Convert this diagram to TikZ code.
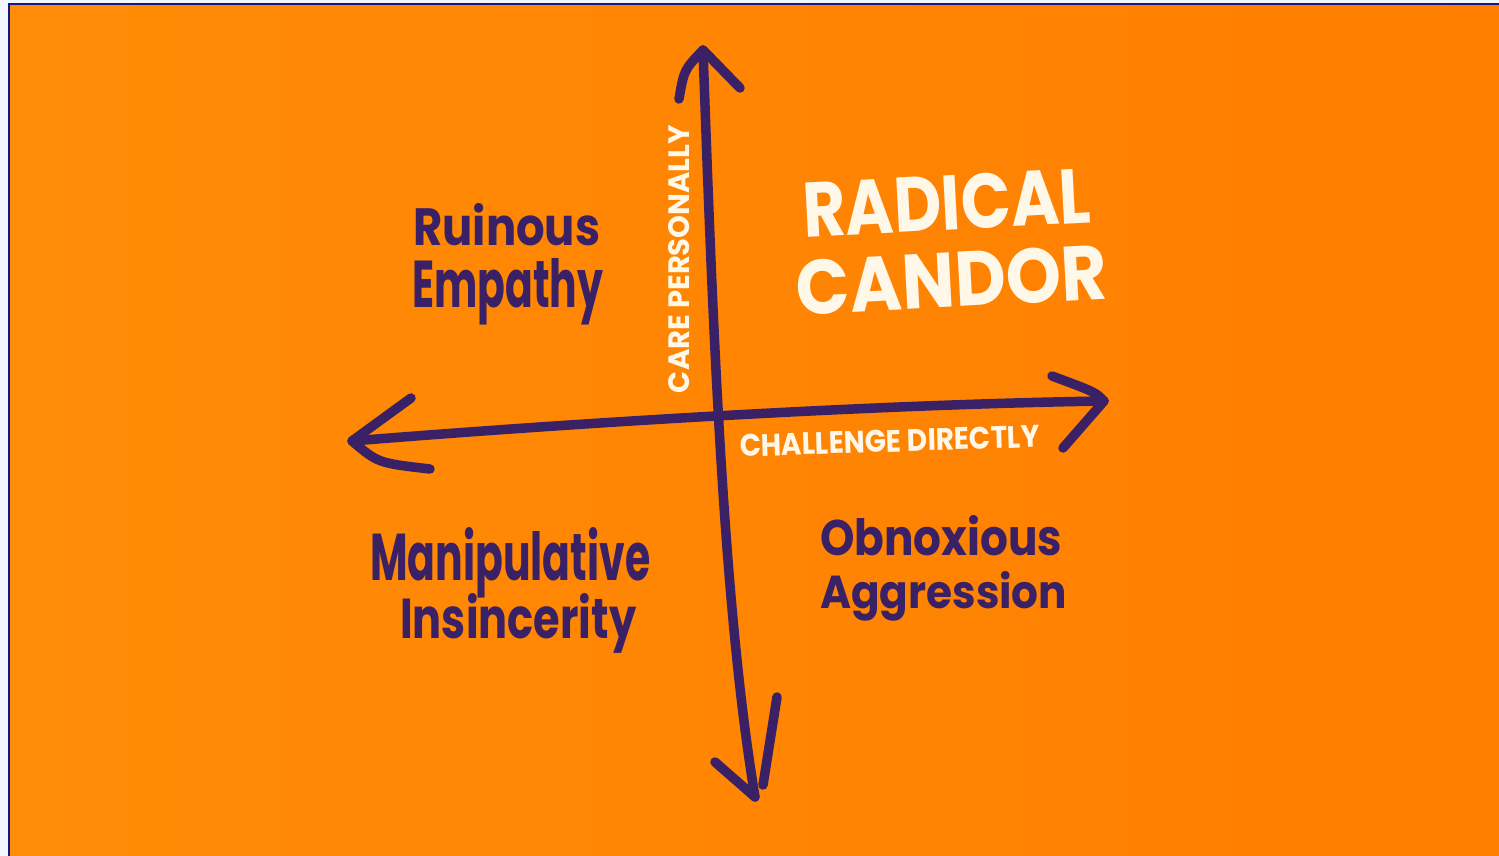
\documentclass[tikz,border=0pt]{standalone}
\usepackage{fontspec}
\setmainfont{Poppins}
\usepackage{graphicx}
\definecolor{frameback}{RGB}{242,246,255}
\definecolor{framenavy}{RGB}{20,24,130}
\definecolor{paperL}{RGB}{255,140,6}
\definecolor{paperR}{RGB}{255,126,0}
\definecolor{ink}{RGB}{58,32,100}
\definecolor{chalk}{RGB}{255,247,232}
% fit a line of text to a given width and height
\newcommand\fitline[3]{\resizebox{#1}{#2}{#3}}
\begin{document}
\begin{tikzpicture}[x=1pt,y=-1pt,
  axis/.style={draw=ink,line width=9.5pt,line cap=round,line join=round},
  quadrant/.style={inner sep=0pt,anchor=base west,text=ink,font=\bfseries},
  axislabel/.style={inner sep=0pt,anchor=base,text=chalk,font=\bfseries},
  headline/.style={inner sep=0pt,anchor=base,text=chalk,font=\bfseries}]
\useasboundingbox (0,0) rectangle (1499,856);
% page and board
\fill[frameback] (0,0) rectangle (1499,856);
\shade[left color=paperL,right color=paperR] (9,4) rectangle (1499,856);
\draw[framenavy,line width=2pt] (9,856) -- (9,4) -- (1499,4);

% vertical axis: care personally
\coordinate (vtop) at (703,50);
\coordinate (vbot) at (755,797);
\draw[axis] (vtop) .. controls (712,300) and (722,600) .. (vbot);
\draw[axis] (679,99) .. controls (684,70) .. (vtop) -- (740,88);
\draw[axis] (715,762) -- (vbot);
\coordinate (vbarbA) at (777,697);
\coordinate (vbarbB) at (763,785);
\draw[axis] (vbarbA) -- (vbarbB);

% horizontal axis: challenge directly
\coordinate (hl) at (352,441);
\coordinate (hr) at (1104,401);
\draw[axis] (hl) .. controls (550,425) and (850,405) .. (hr);
\draw[axis] (411,398) -- (hl) .. controls (378,463) .. (430,469);
\draw[axis] (1052,376) .. controls (1095,392) .. (hr) -- (1063,448);

% axis labels
\node[axislabel,rotate=90] (care) at (689,259) {\fitline{268pt}{21pt}{CARE PERSONALLY}};
\node[axislabel,rotate=1.8] (chal) at (890,452) {\fitline{300pt}{22pt}{CHALLENGE DIRECTLY}};

% quadrant names
\node[quadrant] (ru) at (413,245) {\fitline{187pt}{42pt}{Ruinous}};
\node[quadrant] (em) at (412,307) {\fitline{191pt}{49pt}{Empathy}};
\node[quadrant] (ma) at (370,580) {\fitline{280pt}{53pt}{Manipulative}};
\node[quadrant] (in) at (400,638) {\fitline{236pt}{45pt}{Insincerity}};
\node[quadrant] (ob) at (820,555) {\fitline{242pt}{40pt}{Obnoxious}};
\node[quadrant] (ag) at (820,608) {\fitline{247pt}{37pt}{Aggression}};

% the sweet spot
\node[headline,rotate=3] (rad) at (948,230) {\fitline{288pt}{55pt}{RADICAL}};
\node[headline,rotate=3] (can) at (953,307) {\fitline{311pt}{55pt}{CANDOR}};
\end{tikzpicture}
\end{document}
